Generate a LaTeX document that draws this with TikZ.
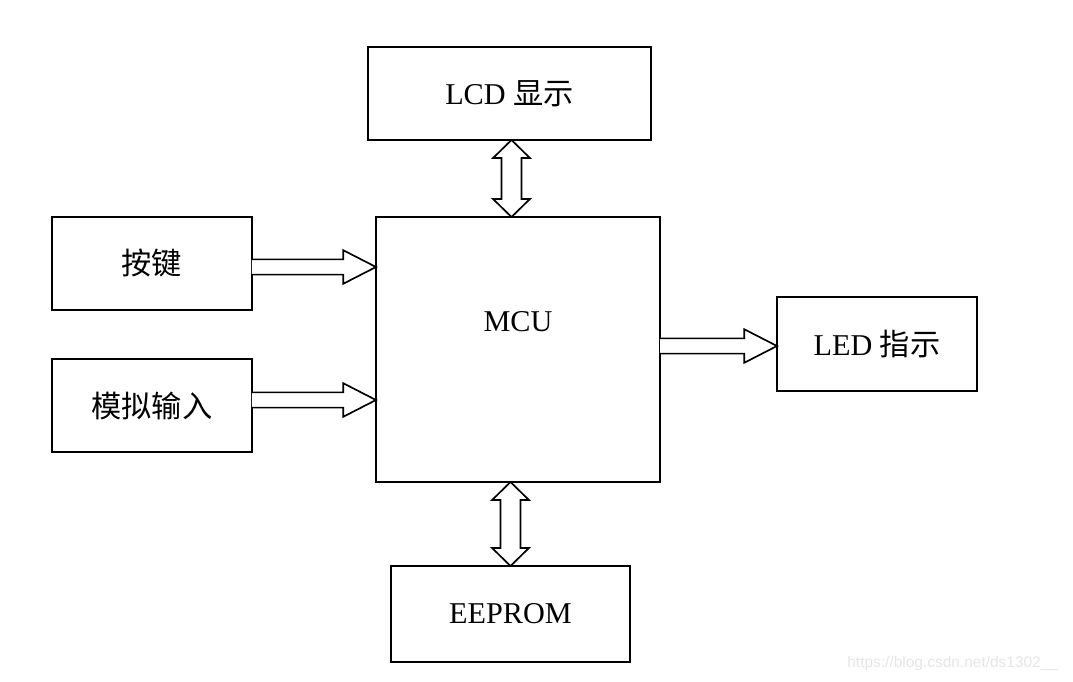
\documentclass[tikz,border=0pt]{standalone}
\usepackage{fontspec}
\setmainfont{Liberation Serif}
\newfontfamily\cjk{Noto Sans CJK SC}
\newfontfamily\wmfont{Liberation Sans}
\usetikzlibrary{positioning, calc}

% hollow block arrows
\newcommand{\rightblock}[2]{%
  \draw[blockarrow] ($(#1)+(0,0.19)$) -- ($(#2)+(-0.82,0.19)$) -- ($(#2)+(-0.82,0.42)$) -- (#2)
    -- ($(#2)+(-0.82,-0.42)$) -- ($(#2)+(-0.82,-0.19)$) -- ($(#1)+(0,-0.19)$);}
\newcommand{\updownblock}[2]{%
  \draw[blockarrow] (#1) -- ($(#1)+(0.46,-0.45)$) -- ($(#1)+(0.25,-0.45)$) -- ($(#2)+(0.25,0.45)$)
    -- ($(#2)+(0.46,0.45)$) -- (#2) -- ($(#2)+(-0.46,0.45)$) -- ($(#2)+(-0.25,0.45)$)
    -- ($(#1)+(-0.25,-0.45)$) -- ($(#1)+(-0.46,-0.45)$) -- cycle;}

\begin{document}
\begin{tikzpicture}[
					box/.style={draw, line width=1.2pt, outer sep=0pt, font=\fontsize{21.5}{25}\selectfont},
					blockarrow/.style={draw, line width=1.2pt, line join=miter, fill=white},
					node distance=1.925cm and 3.1cm]
				\useasboundingbox (-12.95,-8.2875) rectangle (13.875,8.7375);
				\node[box, minimum width=7.1cm, minimum height=6.625cm] (mcu) {};
				\node[font=\fontsize{21.5}{25}\selectfont] (mcutext) at ([yshift=0.69cm]mcu.center) {MCU};
				\node[box, minimum width=7.075cm, minimum height=2.325cm, above=1.925cm of mcu.north, xshift=-0.2125cm] (lcd) {LCD {\cjk 显示}};
				\node[box, minimum width=5.975cm, minimum height=2.4cm, below=2.1cm of mcu.south, xshift=-0.1875cm] (eeprom) {EEPROM};
				\node[box, minimum width=5cm, minimum height=2.325cm, anchor=north east] (key) at ([xshift=-3.1cm]mcu.north west) {\cjk 按键};
				\node[box, minimum width=5cm, minimum height=2.325cm, below=1.225cm of key] (adc) {\cjk 模拟输入};
				\node[box, minimum width=5cm, minimum height=2.35cm, right=2.925cm of mcu.east, yshift=0.1375cm] (led) {LED {\cjk 指示}};
				% connectors
				\coordinate (k1) at ([yshift=-0.0875cm]key.east);
				\coordinate (k2) at (k1 -| mcu.west);
				\coordinate (a1) at ([yshift=0.1375cm]adc.east);
				\coordinate (a2) at (a1 -| mcu.west);
				\coordinate (l2) at ([yshift=-0.05cm]led.west);
				\coordinate (l1) at (l2 -| mcu.east);
				\coordinate (t1) at ([xshift=0.05cm]lcd.south);
				\coordinate (t2) at (t1 |- mcu.north);
				\coordinate (b1) at (eeprom.north |- mcu.south);
				\coordinate (b2) at (eeprom.north);
				\rightblock{k1}{k2}
				\rightblock{a1}{a2}
				\rightblock{l1}{l2}
				\updownblock{t1}{t2}
				\updownblock{b1}{b2}
				\node[font=\wmfont\fontsize{11}{13}\selectfont, text=gray!20, anchor=east] (wm) at (13.625,-7.84) {https://blog.csdn.net/ds1302\_\_};
			\end{tikzpicture}
\end{document}
